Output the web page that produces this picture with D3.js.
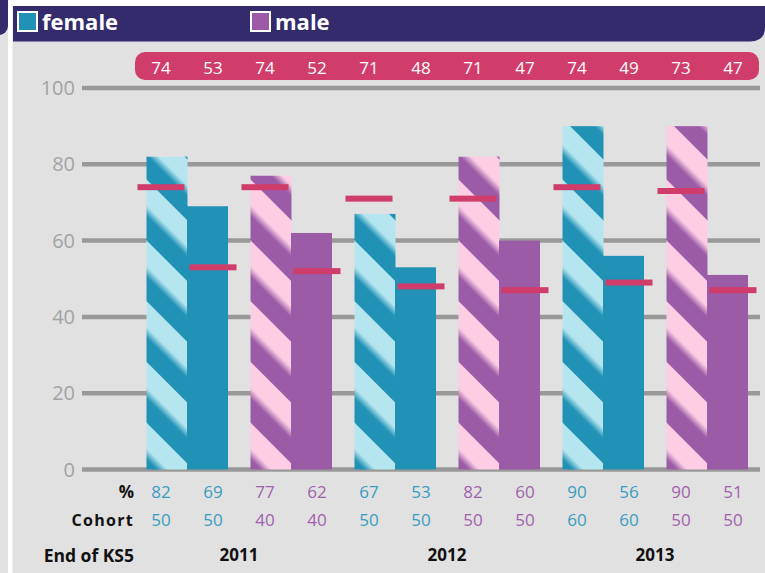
<!DOCTYPE html>
<html>
<head>
<meta charset="utf-8">
<script src="https://cdn.jsdelivr.net/npm/d3@7"></script>
<style>
  html, body { margin: 0; padding: 0; background: #e1e1e1; }
  svg { display: block; font-family: "Open Sans", "Noto Sans", sans-serif; }
</style>
</head>
<body>
<svg id="chart" width="765" height="573"></svg>
<script>
// Results by cohort: each year has a female pair and a male pair of bars
const years = ["2011", "2012", "2013"];
const genders = ["female", "male", "female", "male", "female", "male"];
const pctValues = [82, 69, 77, 62, 67, 53, 82, 60, 90, 56, 90, 51];
const cohortValues = [50, 50, 40, 40, 50, 50, 50, 50, 60, 60, 50, 50];
const targetValues = [74, 53, 74, 52, 71, 48, 71, 47, 74, 49, 73, 47];
const yTicks = [0, 20, 40, 60, 80, 100];

const palette = {
  female: { dark: "#2191b6", light: "#b5e6ef", text: "#3a9cc0" },
  male:   { dark: "#9b5ba6", light: "#fdcde4", text: "#a062ad" }
};
const navy = "#332b6b";
const pink = "#d13d6b";

const svg = d3.select("#chart");
const W = 765, H = 573;

// scales
const x = d3.scaleBand().domain(d3.range(12)).range([135, 759]).padding(0);
const xPair = d3.scaleBand().domain(d3.range(6)).range([135, 759]).padding(0);
const xYear = d3.scaleBand().domain(years).range([135, 759]).padding(0);
const y = d3.scaleLinear().domain([0, 100]).range([469.5, 88]);
const barW = 40.5;

// background & frame
svg.append("rect").attr("width", W).attr("height", H).attr("fill", "#e1e1e1");
svg.append("rect").attr("x", 12).attr("y", 0).attr("width", W).attr("height", 6).attr("fill", "#ffffff");
svg.append("rect").attr("x", -20).attr("y", -20).attr("width", 28).attr("height", 55).attr("rx", 9).attr("fill", navy);
svg.append("rect").attr("x", 8).attr("y", 0).attr("width", 4.5).attr("height", H).attr("fill", "#ffffff");

// header band with legend
svg.append("path")
  .attr("d", `M13,6 H765 V27 Q765,41.5 750,41.5 H13 Z`)
  .attr("fill", navy);

const legend = [
  { key: "female", x: 17 },
  { key: "male", x: 250 }
];
const lg = svg.append("g").selectAll("g").data(legend).join("g")
  .attr("transform", d => `translate(${d.x},11)`);
lg.append("rect").attr("x", 1).attr("y", 1).attr("width", 19).attr("height", 19)
  .attr("fill", d => palette[d.key].dark).attr("stroke", "#ffffff").attr("stroke-width", 2);
lg.append("text").attr("x", 25).attr("y", 19)
  .attr("fill", "#ffffff").attr("font-weight", 700).attr("font-size", 22)
  .text(d => d.key);

// striped gradient patterns, one per bar so the stripes start at each bar's base
const defs = svg.append("defs");
["female", "male"].forEach(g => {
  const grad = defs.append("linearGradient").attr("id", "grad-" + g)
    .attr("x1", 0).attr("x2", 1).attr("y1", 0).attr("y2", 0);
  [[0, palette[g].dark], [0.4, palette[g].dark], [0.58, palette[g].light], [1, palette[g].light]]
    .forEach(([o, c]) => grad.append("stop").attr("offset", o).attr("stop-color", c));
});

// gridlines and y tick labels
const grid = svg.append("g");
grid.selectAll("line").data(yTicks).join("line")
  .attr("x1", 82).attr("x2", 760)
  .attr("y1", d => y(d)).attr("y2", d => y(d))
  .attr("stroke", "#999999").attr("stroke-width", 4.5);
grid.selectAll("text").data(yTicks).join("text")
  .attr("x", 75).attr("y", d => y(d) + 7)
  .attr("text-anchor", "end").attr("font-size", 20).attr("fill", "#a3a3a3")
  .text(d => d);

// target band
svg.append("rect").attr("x", 135).attr("y", 52).attr("width", 624).attr("height", 28)
  .attr("rx", 10).attr("fill", pink);
svg.append("g").selectAll("text").data(targetValues).join("text")
  .attr("x", (d, i) => x(i) + x.bandwidth() / 2).attr("y", 74)
  .attr("text-anchor", "middle").attr("font-size", 17).attr("fill", "#ffffff")
  .text(d => d);

// bars
const bars = pctValues.map((v, i) => {
  const pair = Math.floor(i / 2);
  const c = xPair(pair) + xPair.bandwidth() / 2;
  const striped = i % 2 === 0;
  return { v, i, g: genders[pair], striped, x0: striped ? c - barW : c };
});

bars.filter(d => d.striped).forEach(d => {
  defs.append("pattern").attr("id", "stripe-" + d.i)
    .attr("patternUnits", "userSpaceOnUse")
    .attr("width", 43).attr("height", 43)
    .attr("patternTransform", `translate(${d.x0 - 14},${y(0)}) rotate(-45)`)
    .append("rect").attr("width", 43).attr("height", 43).attr("fill", `url(#grad-${d.g})`);
});

svg.append("g").selectAll("rect").data(bars).join("rect")
  .attr("x", d => d.x0).attr("width", barW + 0.5)
  .attr("y", d => y(d.v)).attr("height", d => y(0) - y(d.v))
  .attr("fill", d => d.striped ? `url(#stripe-${d.i})` : palette[d.g].dark);

// target markers
svg.append("g").selectAll("rect").data(targetValues).join("rect")
  .attr("x", (d, i) => x(i) + x.bandwidth() / 2 - 23.5).attr("width", 47)
  .attr("y", d => y(d) - 3).attr("height", 6)
  .attr("fill", pink);

// table rows under the axis
const rowLabels = [
  { text: "%", y: 497.5, size: 17, spacing: 0 },
  { text: "Cohort", y: 526, size: 16, spacing: 1.3 },
  { text: "End of KS5", y: 561.5, size: 17.5, spacing: 0 }
];
svg.append("g").selectAll("text").data(rowLabels).join("text")
  .attr("x", 134).attr("y", d => d.y).attr("text-anchor", "end")
  .attr("font-weight", 700).attr("font-size", d => d.size)
  .attr("letter-spacing", d => d.spacing)
  .attr("fill", "#111111").text(d => d.text);

const tableRow = (vals, yy) => svg.append("g").selectAll("text").data(vals).join("text")
  .attr("x", (d, i) => x(i) + x.bandwidth() / 2).attr("y", yy)
  .attr("text-anchor", "middle").attr("font-size", 17)
  .attr("fill", (d, i) => palette[genders[Math.floor(i / 2)]].text)
  .text(d => d);
tableRow(pctValues, 497.5);
tableRow(cohortValues, 526);

svg.append("g").selectAll("text").data(years).join("text")
  .attr("x", d => xYear(d) + xYear.bandwidth() / 2).attr("y", 561)
  .attr("text-anchor", "middle").attr("font-weight", 700).attr("font-size", 17)
  .attr("fill", "#111111").text(d => d);
</script>
</body>
</html>
